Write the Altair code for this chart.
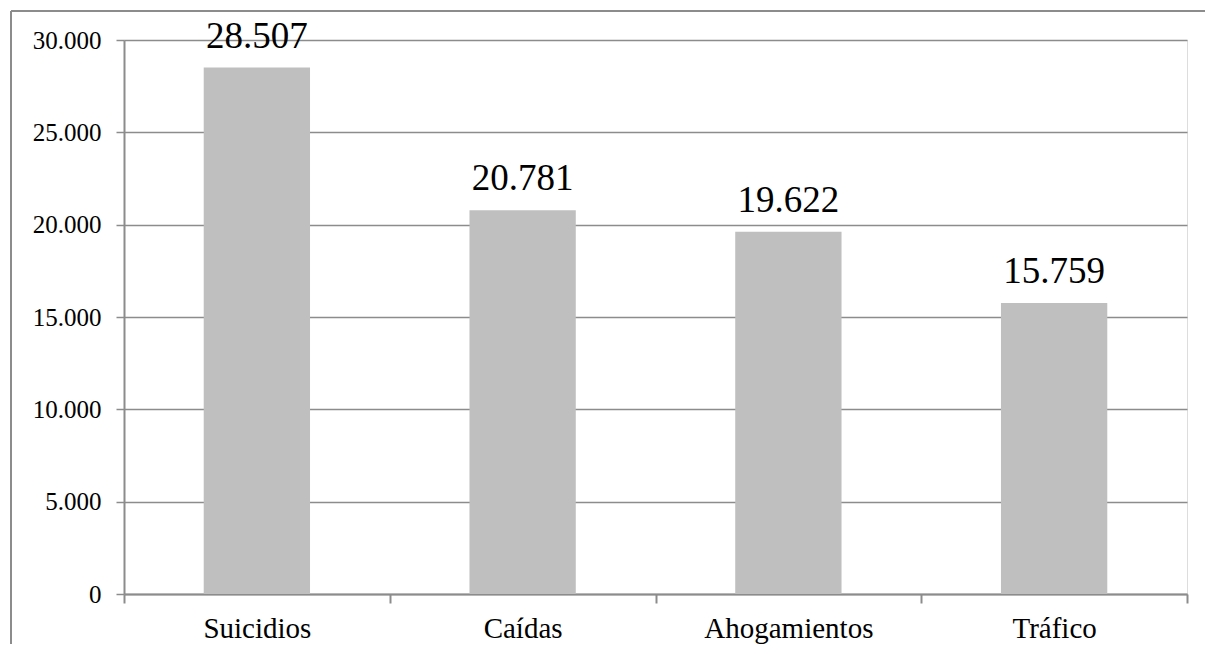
import altair as alt
import pandas as pd

categories = ["Suicidios", "Caídas", "Ahogamientos", "Tráfico"]
values = [28507, 20781, 19622, 15759]

df = pd.DataFrame({"cat": categories, "v": values})

FONT = "Liberation Serif"
GRAY = "#8c8c8c"

x_enc = alt.X(
    "cat:N",
    sort=categories,
    scale=alt.Scale(paddingInner=0, paddingOuter=0),
    axis=alt.Axis(
        title=None,
        labelAngle=0,
        labelFont=FONT,
        labelFontSize=29,
        labelColor="#000000",
        labelPadding=11,
        tickBand="extent",
        tickSize=9,
        tickColor=GRAY,
        tickWidth=2,
        domainColor=GRAY,
        domainWidth=2,
        grid=False,
    ),
)

y_enc = alt.Y(
    "v:Q",
    scale=alt.Scale(domain=[0, 30000], nice=False),
    axis=alt.Axis(
        title=None,
        values=[0, 5000, 10000, 15000, 20000, 25000, 30000],
        labelExpr="replace(format(datum.value, ','), ',', '.')",
        labelFont=FONT,
        labelFontSize=25,
        labelColor="#000000",
        labelPadding=15,
        tickSize=8,
        tickColor=GRAY,
        tickWidth=1.5,
        domainColor=GRAY,
        domainWidth=2,
        grid=True,
        gridColor=GRAY,
        gridWidth=1.5,
    ),
)

bars = alt.Chart(df).mark_bar(color="#bfbfbf", width=alt.RelativeBandSize(0.4)).encode(
    x=x_enc, y=y_enc
)

labels = (
    alt.Chart(df)
    .transform_calculate(lbl="replace(format(datum.v, ','), ',', '.')")
    .mark_text(font=FONT, fontSize=37, color="#000000", baseline="alphabetic", dy=-20)
    .encode(x=alt.X("cat:N", sort=categories), y="v:Q", text="lbl:N")
)

frame_df = pd.DataFrame({"k": [0]})
frame_left = alt.Chart(frame_df).mark_rule(color=GRAY, strokeWidth=2, clip=False).encode(
    x=alt.value(-113), y=alt.value(-29), y2=alt.value(800)
)
frame_top = alt.Chart(frame_df).mark_rule(color=GRAY, strokeWidth=2, clip=False).encode(
    x=alt.value(-113), x2=alt.value(1300), y=alt.value(-29)
)

chart = (
    alt.layer(bars, labels, frame_left, frame_top)
    .properties(
        width=1063,
        height=554,
        autosize=alt.AutoSizeParams(type="none"),
        padding={"left": 116, "top": 32, "right": 18, "bottom": 50},
    )
    .configure_view(stroke=None)
    .configure(background="white")
)

chart.save("out.html", embed_options={"renderer": "svg", "actions": False})
